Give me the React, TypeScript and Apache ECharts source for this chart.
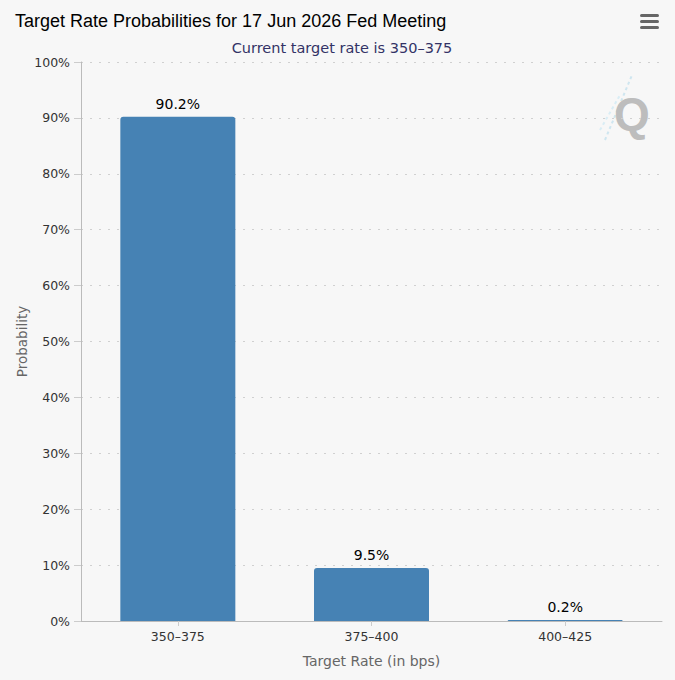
import React, { useEffect, useRef } from "react";
import * as echarts from "echarts";

const categories = ["350-375", "375-400", "400-425"];
const probabilities = [90.2, 9.5, 0.2];
const yTicks = [0, 10, 20, 30, 40, 50, 60, 70, 80, 90, 100];
const titleText = "Target Rate Probabilities for 17 Jun 2026 Fed Meeting";
const subtitleText = "Current target rate is 350\u2013375";

export default function App() {
  const ref = useRef<HTMLDivElement>(null);
  useEffect(() => {
    document.body.style.margin = "0";
    const chart = echarts.init(ref.current!, null, { renderer: "svg" });
    const labelFont = "'DejaVu Sans', 'Lucida Grande', sans-serif";
    chart.setOption({
      animation: false,
      backgroundColor: "#f7f7f7",
      title: [
        {
          text: titleText,
          left: 10,
          top: 7,
          textStyle: {
            fontFamily: "'Liberation Sans', Arial, sans-serif",
            fontSize: 18,
            fontWeight: "normal",
            color: "#000",
          },
        },
        {
          text: subtitleText,
          left: 337,
          textAlign: "center",
          top: 35,
          textStyle: {
            fontFamily: labelFont,
            fontSize: 14.5,
            fontWeight: "normal",
            color: "#333366",
          },
        },
      ],
      grid: { left: 81, right: 13, top: 62, bottom: 59, containLabel: false },
      xAxis: {
        type: "category",
        data: categories.map((c) => c.replace("-", "\u2013")),
        name: "Target Rate (in bps)",
        nameLocation: "middle",
        nameGap: 33,
        nameMoveOverlap: false,
        nameTextStyle: { fontFamily: labelFont, fontSize: 14, color: "#666" },
        axisLine: { lineStyle: { color: "#bbb" } },
        axisTick: { show: true, alignWithLabel: true, length: 5, lineStyle: { color: "#ccc" } },
        axisLabel: { fontFamily: labelFont, fontSize: 12.5, color: "#333", margin: 9 },
      },
      yAxis: {
        type: "value",
        min: yTicks[0],
        max: yTicks[yTicks.length - 1],
        interval: 10,
        name: "Probability",
        nameLocation: "middle",
        nameGap: 52,
        nameRotate: 90,
        nameMoveOverlap: false,
        nameTextStyle: { fontFamily: labelFont, fontSize: 13.5, color: "#666" },
        axisLine: { show: true, lineStyle: { color: "#bbb" } },
        axisTick: { show: true, length: 7, lineStyle: { color: "#ccc" } },
        axisLabel: {
          fontFamily: labelFont,
          fontSize: 12.5,
          color: "#333",
          margin: 11,
          formatter: (v: number) => `${v}%`,
        },
        splitLine: { show: true, lineStyle: { color: "#d0d0d0", type: [2, 7], width: 1 } },
      },
      series: [
        {
          type: "bar",
          data: probabilities,
          barWidth: 115,
          itemStyle: { color: "#4682b4", borderRadius: [3, 3, 0, 0] },
          label: {
            show: true,
            position: "top",
            distance: 6,
            fontFamily: labelFont,
            fontSize: 14,
            color: "#000",
            formatter: (p: any) => `${p.value}%`,
          },
        },
      ],
      graphic: [
        { type: "rect", shape: { x: 640, y: 14, width: 19, height: 3, r: 1.5 }, style: { fill: "#666" } },
        { type: "rect", shape: { x: 640, y: 20, width: 19, height: 3, r: 1.5 }, style: { fill: "#666" } },
        { type: "rect", shape: { x: 640, y: 26, width: 19, height: 3, r: 1.5 }, style: { fill: "#666" } },
        { type: "line", shape: { x1: 605, y1: 140, x2: 632, y2: 75 }, style: { stroke: "#cfe6f0", lineWidth: 2, lineDash: [3, 3] } },
        { type: "line", shape: { x1: 600, y1: 130, x2: 620, y2: 95 }, style: { stroke: "#d9edf5", lineWidth: 2, lineDash: [3, 3] } },
        {
          type: "text",
          x: 632,
          y: 114,
          style: {
            text: "Q",
            fontFamily: "'Liberation Sans', Arial, sans-serif",
            fontWeight: "bold",
            fontSize: 46,
            fill: "#bdbdbd",
            align: "center",
            verticalAlign: "middle",
          },
        },
      ],
    });
    return () => chart.dispose();
  }, []);
  return <div ref={ref} style={{ width: 675, height: 680 }} />;
}
